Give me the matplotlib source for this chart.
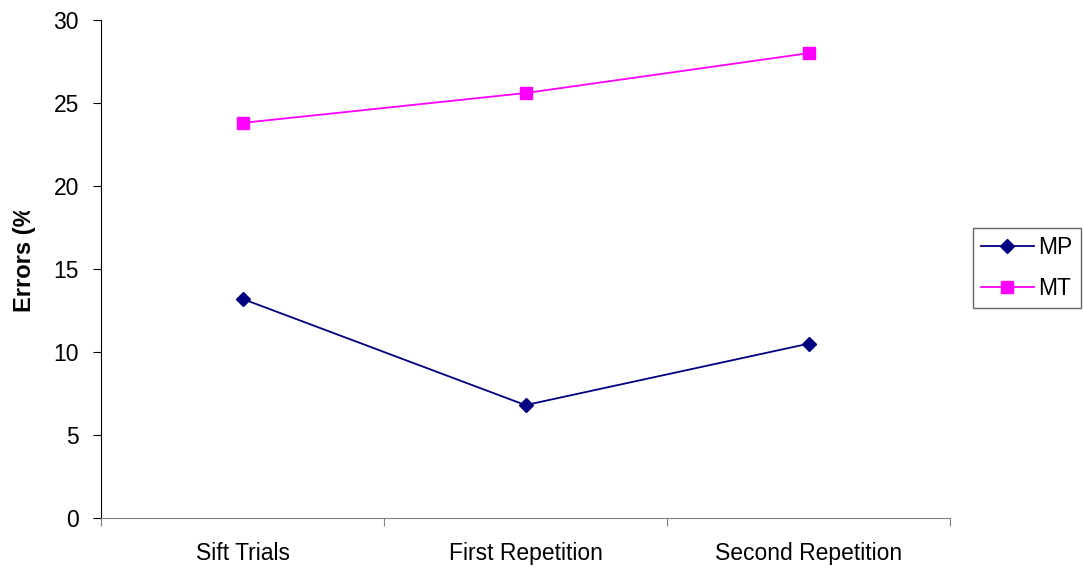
import numpy as np
import matplotlib.pyplot as plt
from matplotlib.transforms import Bbox

plt.rcParams['font.family'] = ['Liberation Sans', 'DejaVu Sans']

# error rates per session
sessions = ['Sift Trials', 'First Repetition', 'Second Repetition']
mp = [13.2, 6.8, 10.5]
mt = [23.8, 25.6, 28.0]

fig = plt.figure(figsize=(10.83, 5.72), dpi=100)
ax = fig.add_axes([101/1083, 1-518/572, 849/1083, 498/572])

x = np.arange(len(sessions))
ax.plot(x, mp, color='#000080', lw=1.3, marker='D', ms=7, label='MP')
ax.plot(x, mt, color='#FF00FF', lw=1.3, marker='s', ms=8, label='MT')

ax.set_xlim(-0.5, 2.5)
ax.set_ylim(0, 30)
ax.set_yticks(np.arange(0, 31, 5))
ax.tick_params(axis='y', direction='out', length=6, labelsize=16.5, pad=10)

# category ticks sit on the boundaries between sessions
ax.set_xticks([-0.5, 0.5, 1.5, 2.5])
ax.set_xticklabels([])
ax.set_xticks(x, minor=True)
ax.set_xticklabels(sessions, minor=True, fontsize=16.5)
ax.tick_params(axis='x', which='major', direction='out', length=6, color='#808080')
ax.tick_params(axis='x', which='minor', length=0, pad=17)

for s in ['top', 'right']:
    ax.spines[s].set_visible(False)
ax.spines['bottom'].set_color('#808080')
ax.spines['left'].set_color('black')

# y label, top part cut off
ylab = fig.text(24/1083, 1-255/572, 'Errors (%)', rotation=90, ha='center', va='center',
                fontsize=17, fontweight='bold')
ylab.set_clip_box(Bbox.from_extents(0, 0, 1083, 572 - 211))
ylab.set_clip_on(True)

leg = ax.legend(loc='center left', bbox_to_anchor=(973/1083, 1-268/572), bbox_transform=fig.transFigure,
                fontsize=16.5, frameon=True, fancybox=False, edgecolor='#404040',
                handlelength=2.3, borderpad=0.35, labelspacing=0.75, handletextpad=0.2,
                borderaxespad=0)
leg.get_frame().set_linewidth(1.0)

fig.savefig('out.png', dpi=100)
